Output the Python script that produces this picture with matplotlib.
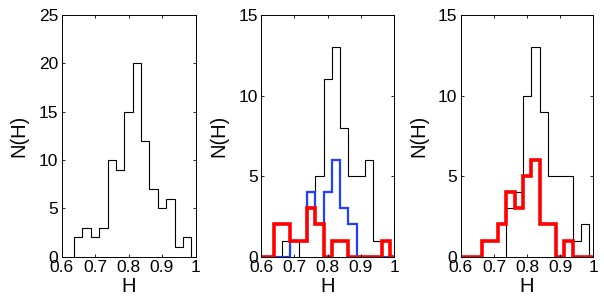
import numpy as np
import matplotlib
matplotlib.use("Agg")
import matplotlib.pyplot as plt

plt.rcParams['font.family'] = ['Liberation Sans', 'DejaVu Sans']

# bin centres (H)
centers = [0.65, 0.675, 0.70, 0.725, 0.75, 0.775, 0.80, 0.825, 0.85, 0.875, 0.90, 0.925, 0.95, 0.975]

# panel 1: full sample
all_counts = [2, 3, 2, 3, 10, 9, 15, 20, 12, 7, 5, 6, 1, 2]

# panel 2
p2_black = [0, 1, 0, 1, 4, 5, 11, 13, 8, 5, 5, 6, 1, 1]
p2_blue = [0, 0, 1, 1, 4, 2, 4, 6, 3, 2, 0, 0, 0, 0]
p2_red = [2, 2, 1, 1, 3, 2, 0, 1, 1, 0, 0, 0, 0, 1]

# panel 3
p3_black = [0, 0, 0, 0, 3, 4, 10, 13, 9, 5, 5, 5, 1, 2]
p3_red = [0, 1, 1, 2, 4, 3, 5, 6, 2, 2, 0, 1, 0, 0]

xticks = [0.6, 0.7, 0.8, 0.9, 1.0]
xticklabels = ['0.6', '0.7', '0.8', '0.9', '1']
yticks1 = [0, 5, 10, 15, 20, 25]
yticks23 = [0, 5, 10, 15]

width = 0.025
edges = np.concatenate([np.array(centers) - width / 2, [centers[-1] + width / 2]])
ext_edges = np.concatenate([[0.6], edges, [1.0]])


def trim(vals):
    v = np.array(vals, dtype=float)
    nz = np.nonzero(v)[0]
    i0, i1 = nz[0], nz[-1] + 1
    return v[i0:i1], edges[i0:i1 + 1]


def ext(vals):
    return np.concatenate([[0], vals, [0]])


fig = plt.figure(figsize=(6.04, 3.07), dpi=100)
positions = [
    [61.5 / 604, 50.3 / 307, 134 / 604, 241.7 / 307],
    [261.2 / 604, 50.3 / 307, 133 / 604, 241.7 / 307],
    [460.8 / 604, 50.3 / 307, 132.6 / 604, 241.7 / 307],
]
axes = [fig.add_axes(p) for p in positions]

# panel 1
v, e = trim(all_counts)
axes[0].stairs(v, e, color='black', lw=0.8, baseline=0)
axes[0].set_ylim(0, 25)
axes[0].set_yticks(yticks1)

# panel 2
v, e = trim(p2_black)
axes[1].stairs(v, e, color='black', lw=0.8, baseline=0)
axes[1].stairs(ext(p2_blue), ext_edges, color='#1f3fff', lw=1.6, baseline=None)
axes[1].stairs(ext(p2_red), ext_edges, color='#ff0000', lw=2.6, baseline=None)
axes[1].set_ylim(0, 15)
axes[1].set_yticks(yticks23)

# panel 3
v, e = trim(p3_black)
axes[2].stairs(v, e, color='black', lw=0.8, baseline=0)
axes[2].stairs(ext(p3_red), ext_edges, color='#ff0000', lw=2.6, baseline=None)
axes[2].set_ylim(0, 15)
axes[2].set_yticks(yticks23)

for ax in axes:
    ax.set_xlim(0.6, 1.0)
    ax.set_xticks(xticks)
    ax.set_xticklabels(xticklabels)
    ax.tick_params(direction='in', length=2.5, width=0.6, top=True, right=True,
                   labelsize=12.5, pad=2.5)
    for s in ax.spines.values():
        s.set_linewidth(0.7)
    ax.set_xlabel('H', fontsize=14.5, labelpad=1.5)
    ax.set_ylabel('N(H)', fontsize=14.5, labelpad=7)

fig.savefig('out.png', dpi=100)
